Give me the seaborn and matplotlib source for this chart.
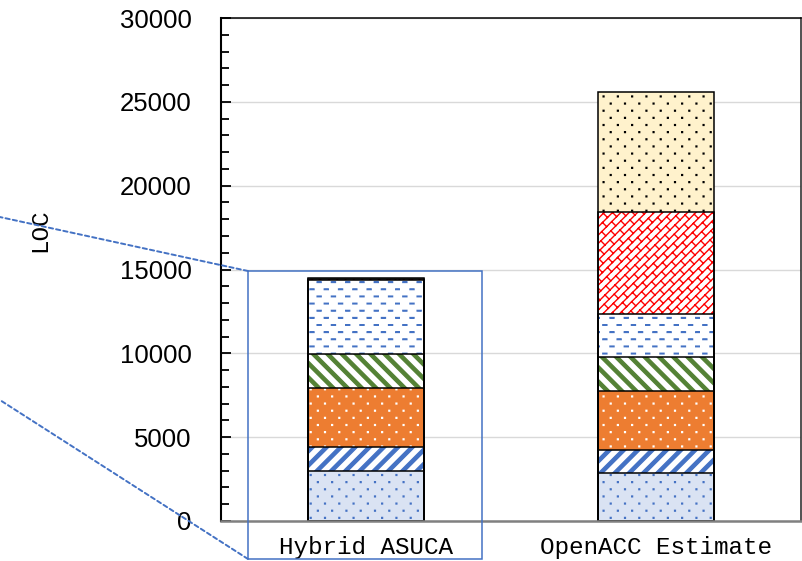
import warnings

import numpy as np
import matplotlib
matplotlib.use("Agg")
import matplotlib.pyplot as plt
import seaborn as sns
from matplotlib import hatch as mhatch
from matplotlib.path import Path
from matplotlib.patches import Rectangle, ConnectionPatch
from matplotlib.ticker import MultipleLocator

warnings.filterwarnings("ignore")

# ---- data (lines of code per component, bottom to top) ----
categories = ["Hybrid ASUCA", "OpenACC Estimate"]
series_1 = [3000, 2860]
series_2 = [1430, 1370]
series_3 = [3480, 3540]
series_4 = [2050, 2030]
series_5 = [4390, 2550]
series_6 = [60, 6060]
series_7 = [60, 7160]
y_ticks = [0, 5000, 10000, 15000, 20000, 25000, 30000]


# ---- custom hatch patterns (unit tile = 1 inch) ----
class _TileHatch:
    key = None

    def __init__(self, hatch, density):
        self.parts = self.build() if (hatch and self.key in hatch) else []
        self.num_vertices = sum(len(v) + (1 if closed else 0)
                                for v, closed in self.parts)

    def build(self):
        return []

    def set_vertices_and_codes(self, vertices, codes):
        i = 0
        for v, closed in self.parts:
            n = len(v)
            vertices[i:i + n] = v
            codes[i] = Path.MOVETO
            codes[i + 1:i + n] = Path.LINETO
            i += n
            if closed:
                vertices[i] = v[0]
                codes[i] = Path.CLOSEPOLY
                i += 1


def _rect(x, y, w, h):
    return np.array([[x, y], [x + w, y], [x + w, y + h], [x, y + h]])


class StaggeredDots(_TileHatch):
    key = "d"

    def build(self):
        ncol, nrow, s = 7, 14, 0.008
        parts = []
        for j in range(nrow):
            y = (j + 0.5) / nrow
            for i in range(ncol):
                x = (i + 0.25 + 0.5 * (j % 2)) / ncol
                parts.append((_rect(x - s / 2, y - s / 2, s, s), True))
        return parts


class StaggeredDashes(_TileHatch):
    key = "m"

    def build(self):
        ncol, nrow, length, h = 7, 14, 0.04, 0.006
        parts = []
        for j in range(nrow):
            y = (j + 0.5) / nrow
            for i in range(ncol):
                x = (i + 0.2 + 0.5 * (j % 2)) / ncol
                parts.append((_rect(x, y - h / 2, length, h), True))
        return parts


class RisingStripes(_TileHatch):
    key = "r"
    n, w = 7, 0.045

    def build(self):
        parts = []
        for k in range(-self.n, self.n + 1):
            a = k / self.n
            v = np.array([[a, 0], [a + self.w, 0],
                          [a + self.w + 1, 1], [a + 1, 1]])
            parts.append((v, True))
        return parts


class FallingStripes(_TileHatch):
    key = "l"
    n, w = 7, 0.045

    def build(self):
        parts = []
        for k in range(-self.n, self.n + 1):
            a = k / self.n
            v = np.array([[a, 1], [a + self.w, 1],
                          [a + self.w + 1, 0], [a + 1, 0]])
            parts.append((v, True))
        return parts


class DiagonalBrick(_TileHatch):
    key = "b"
    p, q = 1 / 12, 1 / 10

    def build(self):
        parts = []
        nk = int(round(1 / self.p))
        for k in range(-nk - 1, nk + 2):
            c = k * self.p
            parts.append((np.array([[-1.0, c - 1.0], [2.0, c + 2.0]]), False))
            # stagger the short joints half a brick against the previous course
            shift = -k * self.p / 2 + (k % 2) * self.q / 2
            for m in range(-12, int(round(2.0 / self.q))):
                x0 = m * self.q + shift
                parts.append((np.array([[x0, x0 + c],
                                        [x0 - self.p / 2, x0 + c + self.p / 2]]),
                              False))
        return parts


mhatch._hatch_types.extend(
    [StaggeredDots, StaggeredDashes, RisingStripes, FallingStripes, DiagonalBrick])

# ---- styling ----
sns.set_theme(style="white")
plt.rcParams["font.family"] = ["Liberation Sans", "DejaVu Sans"]
plt.rcParams["hatch.linewidth"] = 1.0
mono = ["Liberation Mono", "DejaVu Sans Mono"]

BLUE = "#4472C4"
layer_styles = [
    ("#DAE3F3", BLUE, "d"),
    ("white", BLUE, "r"),
    ("#ED7D31", "white", "d"),
    ("white", "#548235", "l"),
    ("white", BLUE, "m"),
    ("white", "#FF0000", "b"),
    ("#FFF2CC", "black", "d"),
]

fig = plt.figure(figsize=(8.03, 5.61), dpi=100)
ax = fig.add_axes([221 / 803, 40 / 561, 580 / 803, 503 / 561])

layers = np.array([series_1, series_2, series_3, series_4,
                   series_5, series_6, series_7])
tops = np.cumsum(layers, axis=0)

# filled, hatched segments: tallest stack first so lower segments sit on top
for idx in reversed(range(len(layers))):
    face, hcol, hpat = layer_styles[idx]
    start = len(ax.patches)
    sns.barplot(x=categories, y=tops[idx], color=face, saturation=1,
                width=0.4, errorbar=None, ax=ax, linewidth=0)
    for p in ax.patches[start:]:
        p.set_facecolor(face)
        p.set_edgecolor(hcol)
        p.set_linewidth(0)
        p.set_hatch(hpat)

# black outlines of every segment
for idx in range(len(layers)):
    start = len(ax.patches)
    sns.barplot(x=categories, y=tops[idx], color="white", saturation=1,
                width=0.4, errorbar=None, ax=ax)
    for p in ax.patches[start:]:
        p.set_facecolor("none")
        p.set_edgecolor("black")
        p.set_linewidth(1.1)
        p.set_hatch(None)

ax.set_xlim(-0.5, 1.5)
ax.set_ylim(0, 30000)
ax.set_yticks(y_ticks)
ax.set_yticklabels([str(t) for t in y_ticks])
ax.yaxis.set_minor_locator(MultipleLocator(1000))
ax.tick_params(axis="y", which="major", direction="in", length=7.2, width=1.3,
               pad=21, labelsize=18.5, left=True, color="black",
               labelcolor="black")
ax.tick_params(axis="y", which="minor", direction="in", length=5.8, width=1.3,
               left=True, color="black")
ax.tick_params(axis="x", length=0, pad=11, labelsize=17.5,
               labelfontfamily=mono, labelcolor="black")
ax.grid(axis="y", which="major", color="#d9d9d9", linewidth=1.0)
ax.grid(axis="x", visible=False)
ax.set_axisbelow(True)

ax.spines["left"].set_color("black")
ax.spines["left"].set_linewidth(1.5)
ax.spines["top"].set_color("black")
ax.spines["top"].set_linewidth(1.1)
ax.spines["right"].set_color("#222222")
ax.spines["right"].set_linewidth(1.1)
ax.spines["bottom"].set_color("#808080")
ax.spines["bottom"].set_linewidth(1.8)

ax.set_xlabel("")
ax.set_ylabel("LOC", fontfamily=mono, fontsize=17.5, color="black")
ax.yaxis.set_label_coords(-0.293, 0.5785)

# highlight box around the first stack with dashed leader lines
box_x0, box_x1 = -0.407, 0.4
box_y0, box_y1 = -2266.0, 14910.0
ax.add_patch(Rectangle((box_x0, box_y0), box_x1 - box_x0, box_y1 - box_y0,
                       fill=False, edgecolor=BLUE, linewidth=1.1,
                       clip_on=False, zorder=4))
for y_box, y_fig in [(box_y1, 0.6209), (box_y0, 0.3098)]:
    con = ConnectionPatch(xyA=(box_x0, y_box), coordsA=ax.transData,
                          xyB=(-0.025, y_fig), coordsB=fig.transFigure,
                          color=BLUE, linewidth=1.4,
                          linestyle=(0, (2.2, 1.6)), clip_on=False, zorder=4)
    fig.add_artist(con)

fig.savefig("out.png", dpi=100)
